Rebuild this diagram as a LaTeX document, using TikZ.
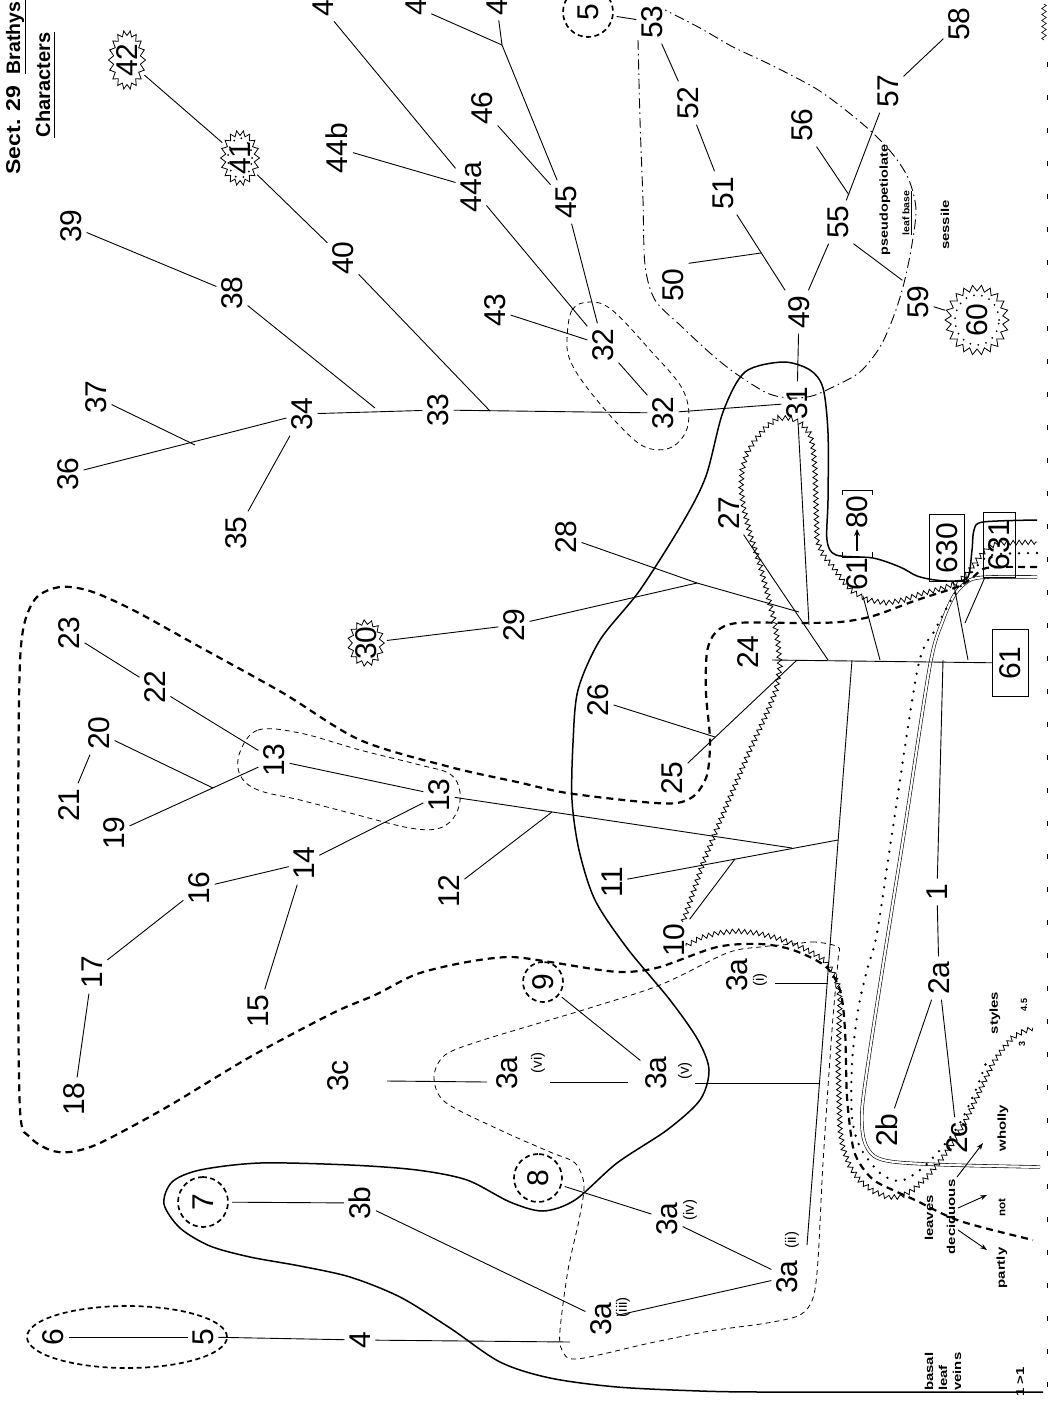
\documentclass[tikz,border=0pt]{standalone}
\usepackage{fontspec}
\usepackage{graphicx}
\setmainfont{Liberation Sans}
\usetikzlibrary{decorations.pathmorphing,arrows.meta,shapes.geometric}
\newcommand{\lbl}[2][1.3]{\scalebox{#1}[1]{#2}}
\begin{document}
\begin{tikzpicture}[x=1pt,y=-1pt,
  num/.style={rotate=90, font={\fontsize{30}{30}\selectfont}, inner sep=1pt, outer sep=4pt},
  rom/.style={rotate=90, font={\fontsize{15}{15}\selectfont}, inner sep=0pt},
  lab/.style={rotate=90, font={\bfseries\fontsize{11.5}{13}\selectfont}, inner sep=1pt},
  hdr/.style={rotate=90, anchor=base, font={\bfseries\fontsize{20}{20}\selectfont}, inner sep=0pt},
  ln/.style={line width=0.9pt},
  solidloop/.style={line width=1.5pt},
  hdash/.style={line width=2.2pt, dash pattern=on 7pt off 5pt},
  hd2/.style={line width=1.7pt, dash pattern=on 5pt off 3.5pt},
  tdash/.style={line width=0.8pt, dash pattern=on 5pt off 4pt},
  ddot/.style={line width=0.9pt, dash pattern=on 10pt off 4pt on 1.5pt off 4pt},
  dots/.style={line width=2.6pt, line cap=round, dash pattern=on 0pt off 9pt},
  wavy/.style={line width=0.8pt, decorate, decoration={zigzag, segment length=6pt, amplitude=2.3pt}},
  burst/.style={line width=0.8pt, line join=miter},
  dbl/.style={line width=0.6pt, double, double distance=2.2pt},
  boxn/.style={num, draw, rectangle, line width=1pt, inner sep=2pt, outer sep=0pt},
  circn/.style={num, circle, draw, hd2, inner sep=0pt},
  arr/.style={line width=0.9pt, -{Stealth[length=7pt,width=5pt]}}
]
\fill[white] (0,0) rectangle (1053,1402);
\useasboundingbox (0,0) rectangle (1053,1402);

% ---------- header ----------
\node[hdr] (sect) at (20,130) {\lbl[1.15]{Sect. 29}};
\node[hdr, font={\bfseries\fontsize{19.5}{20}\selectfont}] (brathys) at (20,38) {Brathys};
\node[hdr] (chars) at (50,85) {Characters};
\draw[ln] (25,0) -- (25,74);
\draw[ln] (54,32) -- (54,138);

% ---------- regions ----------
\draw[dbl] plot[smooth, tension=0.5] coordinates {(1037,577) (990,577) (970,580) (955,594) (943,620) (930,665) (905,827) (887,940) (870,1050) (862,1110) (864,1140) (874,1156) (895,1162) (950,1165) (1040,1167)};
\draw[dots] plot[smooth, tension=0.5] coordinates {(1037,553) (1000,554) (985,558) (968,577) (953,597) (935,630) (918,667) (893,827) (877,933) (867,970) (858,1010) (852,1063) (852,1117) (860,1147) (880,1173) (900,1181) (920,1170) (940,1150) (960,1123) (977,1087) (987,1060)};
\draw[solidloop] plot[smooth, tension=0.5] coordinates {(1043,1392) (900,1392) (760,1392) (700,1391) (617,1387) (550,1378) (500,1362) (450,1328) (400,1297) (350,1277) (300,1266) (250,1257) (210,1246) (180,1228) (164,1204) (172,1182) (200,1170) (260,1163) (350,1165) (417,1170) (467,1180) (510,1202) (543,1211) (575,1200) (617,1163) (667,1130) (700,1100) (709,1070) (698,1040) (670,1000) (627,948) (595,900) (579,850) (572,800) (573,743) (578,690) (600,640) (640,590) (683,522) (706,476) (723,412) (745,372) (783,362) (810,370) (823,388) (828,433) (828,500) (827,540) (836,555) (873,558) (900,567) (917,576) (935,580) (955,581) (968,577) (972,550) (974,530) (983,522) (1037,520)};
\draw[hdash] plot[smooth, tension=0.5] coordinates {(1037,567) (1000,567) (983,569) (972,578) (957,587) (917,600) (873,616) (840,622) (800,623) (737,623) (716,632) (707,652) (706,693) (710,740) (707,775) (695,795) (677,803) (643,802) (567,793) (517,782) (450,767) (360,740) (283,693) (200,647) (133,610) (90,591) (60,587) (36,598) (23,630) (19,700) (18,930) (20,1110) (30,1137) (50,1150) (70,1152) (100,1143) (167,1107) (250,1057) (333,1013) (375,995) (417,974) (467,962) (510,957) (550,962) (600,970) (627,972) (660,967) (717,947) (760,944) (793,950) (825,966) (840,990) (845,1030) (847,1097) (853,1147) (862,1167) (875,1181) (895,1191) (915,1200) (960,1221) (1033,1240)};
\draw[tdash] plot[smooth cycle, tension=0.5] coordinates {(838,947) (815,942) (793,944) (760,947) (727,953) (660,985) (583,1010) (483,1040) (445,1055) (434,1077) (445,1102) (500,1130) (550,1152) (575,1163) (584,1185) (579,1220) (568,1270) (560,1330) (562,1350) (577,1359) (650,1343) (710,1331) (767,1323) (800,1315) (813,1298) (818,1260) (823,1163) (832,1030) (838,960)};
\draw[tdash] plot[smooth cycle, tension=0.6] coordinates {(240,752) (258,730) (300,733) (360,750) (420,765) (450,774) (460,792) (456,814) (440,828) (410,828) (350,813) (300,800) (258,790) (240,775)};
\draw[tdash] plot[smooth cycle, tension=0.6] coordinates {(567,340) (572,310) (590,302) (612,310) (650,350) (683,390) (688,425) (672,447) (645,447) (617,423) (585,385) (570,360)};
\draw[ddot] plot[smooth, tension=0.5] coordinates {(638,40) (640,120) (643,200) (645,265) (655,300) (680,325) (710,353) (735,373) (767,393) (790,398) (812,396) (835,386) (860,372) (880,347) (893,318) (903,287) (911,250) (916,210) (909,180) (895,157) (875,135) (848,112) (815,88) (767,63) (733,47) (700,28) (665,10)};
% wavy tracks (polylines)
\draw[wavy] (683,922) -- (693,893) -- (703,863) -- (718,826) -- (733,790) -- (750,750) -- (767,713) -- (776,690) -- (780,667) -- (778,643) -- (774,620) -- (767,592) -- (760,565) -- (751,537) -- (744,510) -- (741,490) -- (742,470) -- (747,453) -- (755,440) -- (766,427) -- (778,418) -- (791,418) -- (802,424) -- (810,434) -- (813,447) -- (815,470) -- (816,505) -- (817,540) -- (823,555) -- (833,567) -- (843,581) -- (853,592) -- (868,600) -- (887,603) -- (903,600) -- (920,594) -- (940,589) -- (957,583) -- (968,573) -- (977,560) -- (988,547) -- (1000,543) -- (1037,542);
\draw[wavy] (686,946) -- (700,938) -- (717,933) -- (737,931) -- (757,933) -- (777,938) -- (797,945) -- (813,953) -- (824,960) -- (832,970) -- (838,985) -- (840,1000) -- (839,1030) -- (838,1063) -- (839,1097) -- (840,1130) -- (843,1148) -- (850,1167) -- (860,1181) -- (873,1191) -- (887,1197) -- (900,1197) -- (913,1190) -- (927,1177) -- (940,1161) -- (953,1143) -- (966,1120) -- (977,1097) -- (986,1078) -- (993,1063) -- (1002,1050) -- (1012,1038) -- (1022,1032) -- (1033,1028);
\draw[hd2] (127,1337) ellipse [x radius=100pt, y radius=31pt];

% ---------- number nodes ----------
\node[num] (n4a) at (323,8) {4};
\node[num] (n4b) at (416,7) {4};
\node[num] (n4c) at (497,7) {4};
\node[num, ellipse, minimum width=54pt, minimum height=32pt, inner sep=0pt] (n42) at (127,60) {42};
\node[num, ellipse, minimum width=50pt, minimum height=34pt, inner sep=0pt] (n41) at (240,158) {41};
\node[num] (n39) at (71,226) {39};
\node[num] (n38) at (232,293) {38};
\node[num] (n40) at (343,258) {40};
\node[num] (n44b) at (337,148) {44b};
\node[num] (n44a) at (471,187) {44a};
\node[num] (n46) at (482,108) {46};
\node[num] (n45) at (566,202) {45};
\node[num] (n43) at (495,310) {43};
\node[num] (n32a) at (603,345) {32};
\node[num] (n32b) at (663,413) {32};
\node[num] (n37) at (96,397) {37};
\node[num] (n34) at (302,414) {34};
\node[num] (n33) at (438,410) {33};
\node[num] (n36) at (68,474) {36};
\node[num] (n35) at (236,533) {35};
\node[circn, minimum size=50pt] (c5top) at (588,12) {5};
\node[num] (n53) at (652,22) {53};
\node[num] (n52) at (688,103) {52};
\node[num] (n51) at (723,193) {51};
\node[num] (n50) at (673,285) {50};
\node[num] (n49) at (799,312) {49};
\node[num] (n31) at (797,403) {31};
\node[num] (n55) at (838,222) {55};
\node[num] (n56) at (802,125) {56};
\node[num] (n57) at (888,91) {57};
\node[num] (n58) at (959,24) {58};
\node[num] (n59) at (918,302) {59};
\node[num, ellipse, minimum width=64pt, minimum height=58pt, inner sep=0pt] (n60) at (977,320) {60};

\node[num] (n23) at (69,633) {23};
\node[num] (n22) at (155,687) {22};
\node[num] (n20) at (99,733) {20};
\node[num] (n21) at (69,805) {21};
\node[num] (n19) at (114,833) {19};
\node[num] (n13a) at (274,760) {13};
\node[num] (n13b) at (439,795) {13};
\node[num] (n14) at (304,863) {14};
\node[num] (n16) at (199,888) {16};
\node[num] (n15) at (258,1011) {15};
\node[num] (n17) at (92,972) {17};
\node[num] (n18) at (74,1099) {18};
\node[num] (n12) at (449,891) {12};
\node[num] (n11) at (612,882) {11};
\node[num] (n10) at (674,940) {10};
\node[num, ellipse, minimum width=44pt, minimum height=34pt, inner sep=0pt] (n30) at (366,643) {30};
\node[num] (n29) at (514,625) {29};
\node[num] (n28) at (566,537) {28};
\node[num] (n26) at (598,700) {26};
\node[num] (n25) at (672,778) {25};
\node[num] (n24) at (748,652) {24};
\node[num] (n27) at (729,513) {27};

\node[boxn, minimum width=67pt, minimum height=35pt] (b630) at (947,548) {630};
\node[boxn, minimum width=65pt, minimum height=32pt] (b631) at (999,545) {631};
\node[boxn, minimum width=67pt, minimum height=36pt] (b61) at (1010,663) {61};
\node[num] (n61lab) at (857,574) {61};
\node[num] (n80) at (857,512) {80};

\node[num] (n1) at (937,892) {1};
\node[num] (n2a) at (939,978) {2a};
\node[num] (n2b) at (887,1130) {2b};
\node[num] (n2c) at (957,1138) {2c};

\node[num] (n3ai) at (737,975) {3a};
\node[rom] (r3ai) at (760,980) {(i)};
\node[num] (n3aii) at (787,1277) {3a};
\node[rom] (r3aii) at (792,1240) {(ii)};
\node[num] (n3aiii) at (601,1319) {3a};
\node[rom] (r3aiii) at (623,1307) {(iii)};
\node[num] (n3aiv) at (667,1219) {3a};
\node[rom] (r3aiv) at (690,1210) {(iv)};
\node[num] (n3av) at (656,1073) {3a};
\node[rom] (r3av) at (685,1071) {(v)};
\node[num] (n3avi) at (507,1073) {3a};
\node[rom] (r3avi) at (538,1063) {(vi)};
\node[num] (n3b) at (360,1203) {3b};
\node[num] (n3c) at (338,1076) {3c};
\node[circn, minimum size=50pt] (c7) at (203,1202) {7};
\node[circn, minimum size=48pt] (c8) at (538,1178) {8};
\node[circn, minimum size=40pt] (c9) at (543,982) {9};
\node[num] (n6) at (53,1337) {6};
\node[num] (n5) at (203,1337) {5};
\node[num] (n4) at (360,1340) {4};

% ---------- bursts (star rings) ----------
\draw[burst] plot[domain=0:35, samples=36, variable=\k] ({127+(16+2.5*cos(180*\k))*cos(10*\k)}, {60+(27+2.5*cos(180*\k))*sin(10*\k)}) -- cycle;
\draw[burst] plot[domain=0:35, samples=36, variable=\k] ({240+(17+2.5*cos(180*\k))*cos(10*\k)}, {158+(25+2.5*cos(180*\k))*sin(10*\k)}) -- cycle;
\draw[dots, line width=2pt, dash pattern=on 0pt off 8pt] (240,158) ellipse [x radius=12pt, y radius=20pt];
\draw[burst] plot[domain=0:29, samples=30, variable=\k] ({366+(16+2.3*cos(180*\k))*cos(12*\k)}, {643+(21+2.3*cos(180*\k))*sin(12*\k)}) -- cycle;
\draw[burst] plot[domain=0:43, samples=44, variable=\k] ({977+(29+3*cos(180*\k))*cos(360/44*\k)}, {320+(32+3*cos(180*\k))*sin(360/44*\k)}) -- cycle;
\draw[dots, line width=2pt, dash pattern=on 0pt off 8pt] (977,320) ellipse [x radius=22pt, y radius=25pt];

% ---------- small labels ----------
\node[lab] (pseudo) at (885,200) {\lbl[1.25]{pseudopetiolate}};
\node[lab, font={\bfseries\fontsize{9.5}{10}\selectfont}] (leafbase) at (907,213) {\lbl[1.1]{\underline{leaf base}}};
\node[lab] (sessile) at (945,225) {\lbl{sessile}};
\node[lab] (wholly) at (1003,1128) {\lbl{wholly}};
\node[lab] (leaves) at (929,1218) {\lbl{leaves}};
\node[lab] (decid) at (951,1217) {\lbl{deciduous}};
\node[lab, font={\bfseries\fontsize{10.5}{10}\selectfont}] (notl) at (1002,1208) {\lbl[1.1]{not}};
\node[lab] (partly) at (1002,1268) {\lbl{partly}};
\node[lab] (styles) at (995,1013) {\lbl{styles}};
\node[lab, font={\bfseries\fontsize{9}{9}\selectfont}] (s45) at (1024,1005) {4.5};
\node[lab, font={\bfseries\fontsize{9}{9}\selectfont}] (s3) at (1022,1044) {3};
\node[lab, anchor=base west] (basal) at (933,1392) {\lbl{basal}};
\node[lab, anchor=base west] (leafl) at (947,1392) {\lbl{leaf}};
\node[lab, anchor=base west] (veins) at (961,1392) {\lbl{veins}};
\node[lab, anchor=base west] (onegt) at (1024,1398) {\lbl{1 >1}};

% ---------- junction coordinates ----------
\coordinate (j37) at (195,445);
\coordinate (j38) at (375,408);
\coordinate (j40) at (490,411);
\coordinate (j4) at (502,45);
\coordinate (j50) at (761,253);
\coordinate (j56) at (849,195);
\coordinate (j29) at (697,583);
\coordinate (j2729) at (799,612);
\coordinate (j31) at (809,625);
\coordinate (s27) at (828,660);
\coordinate (s25) at (797,660);
\coordinate (j26) at (715,737);
\coordinate (s0) at (772,660);
\coordinate (s2) at (852,660);
\coordinate (s61) at (880,660);
\coordinate (s1) at (943,660);
\coordinate (s630) at (968,660);
\coordinate (j631) at (965,623);
\coordinate (j11) at (838,840);
\coordinate (j13) at (792,848);
\coordinate (j10) at (735,859);
\coordinate (j12) at (552,812);
\coordinate (j20) at (213,788);
\coordinate (j3ai) at (828,983);
\coordinate (st3ai) at (775,983);
\coordinate (j3av) at (820,1083);
\coordinate (st3av) at (695,1083);
\coordinate (e2) at (807,1245);
\coordinate (j4b) at (570,1342);
\coordinate (a3c) at (387,1081);
\coordinate (b3c) at (487,1082);
\coordinate (a3v) at (550,1082);
\coordinate (b3v) at (628,1082);
\coordinate (aw0) at (957,1177);
\coordinate (aw1) at (983,1143);
\coordinate (an0) at (958,1208);
\coordinate (an1) at (987,1195);
\coordinate (ap0) at (958,1230);
\coordinate (ap1) at (987,1250);

% ---------- connectors ----------
\draw[ln] (n36) -- (n34);
\draw[ln] (n37) -- (j37);
\draw[ln] (n35) -- (n34);
\draw[ln] (n34) -- (n33);
\draw[ln] (n38) -- (j38);
\draw[ln] (n39) -- (n38);
\draw[ln] (n33) -- (n32b);
\draw[ln] (n40) -- (j40);
\draw[ln] (n41) -- (n40);
\draw[ln] (n42) -- (n41);
\draw[ln] (n44b) -- (n44a);
\draw[ln] (n4a) -- (n44a);
\draw[ln] (n44a) -- (n32a);
\draw[ln] (n43) -- (n32a);
\draw[ln] (n45) -- (n32a);
\draw[ln] (n46) -- (n45);
\draw[ln] (n4b) -- (j4);
\draw[ln] (n4c) -- (j4);
\draw[ln] (j4) -- (n45);
\draw[ln] (n32a) -- (n32b);
\draw[ln] (n32b) -- (n31);
\draw[ln] (n31) -- (n49);
\draw[ln] (n49) -- (n51);
\draw[ln] (n50.south east) -- (j50);
\draw[ln] (n51) -- (n52);
\draw[ln] (n52) -- (n53);
\draw[ln] (n53) -- (c5top);
\draw[ln] (n49) -- (n55);
\draw[ln] (n55) -- (n57);
\draw[ln] (n56) -- (j56);
\draw[ln] (n57) -- (n58);
\draw[ln] (n55.south west) -- (n59.north east);
\draw[ln] (n59) -- (n60);

\draw[ln] (n23) -- (n22);
\draw[ln] (n22) -- (n13a);
\draw[ln] (n21) -- (n20);
\draw[ln] (n20) -- (j20);
\draw[ln] (n19) -- (n13a);
\draw[ln] (n13a) -- (n13b);
\draw[ln] (n14) -- (n13b);
\draw[ln] (n14) -- (n16);
\draw[ln] (n14) -- (n15);
\draw[ln] (n16) -- (n17);
\draw[ln] (n17) -- (n18);
\draw[ln] (n13b) -- (j13);
\draw[ln] (n12) -- (j12);
\draw[ln] (n11) -- (j11);
\draw[ln] (n10) -- (j10);
\draw[ln] (n30) -- (n29);
\draw[ln] (n28) -- (j29);
\draw[ln] (n29) -- (j29);
\draw[ln] (j29) -- (j2729);
\draw[ln] (n27) -- (s27);
\draw[ln] (n31) -- (j31);
\draw[ln] (n25) -- (s25);
\draw[ln] (n26) -- (j26);

\draw[ln] (s0) -- (b61);
\draw[ln] (s2) -- (e2);
\draw[ln] (n61lab) -- (s61);
\draw[ln] (b630) -- (s630);
\draw[ln] (b631) -- (j631);
\draw[ln] (s1) -- (n1);
\draw[ln] (n1) -- (n2a);
\draw[ln] (n2a) -- (n2b);
\draw[ln] (n2a) -- (n2c);

\draw[ln] (st3ai) -- (j3ai);
\draw[ln] (st3av) -- (j3av);
\draw[ln] (a3c) -- (b3c);
\draw[ln] (a3v) -- (b3v);
\draw[ln] (c9) -- (n3av);
\draw[ln] (c8) -- (n3aiv);
\draw[ln] (n3aiv) -- (n3aii);
\draw[ln] (n3aiii) -- (n3aii);
\draw[ln] (n3b) -- (n3aiii);
\draw[ln] (c7) -- (n3b);
\draw[ln] (n6) -- (n5);
\draw[ln] (n5) -- (n4);
\draw[ln] (n4) -- (j4b);

% bracket and arrow of 61 [-> 80]
\draw[line width=1pt] (842,552) -- (842,557) -- (872,557) -- (872,552);
\draw[line width=1pt] (842,495) -- (842,490) -- (872,490) -- (872,495);
\draw[line width=1.2pt, -{Stealth[length=7pt,width=6pt]}] (857,551) -- (857,529);

% deciduous arrows
\draw[arr] (aw0) -- (aw1);
\draw[arr] (an0) -- (an1);
\draw[arr] (ap0) -- (ap1);

% right edge caption fragments
\draw[wavy, line width=0.6pt] (1044,4) -- (1044,40);
\foreach \yy in {62,95,...,1390} \draw[line width=1pt] (1047,\yy) -- (1047,\yy+5);
\end{tikzpicture}
\end{document}
